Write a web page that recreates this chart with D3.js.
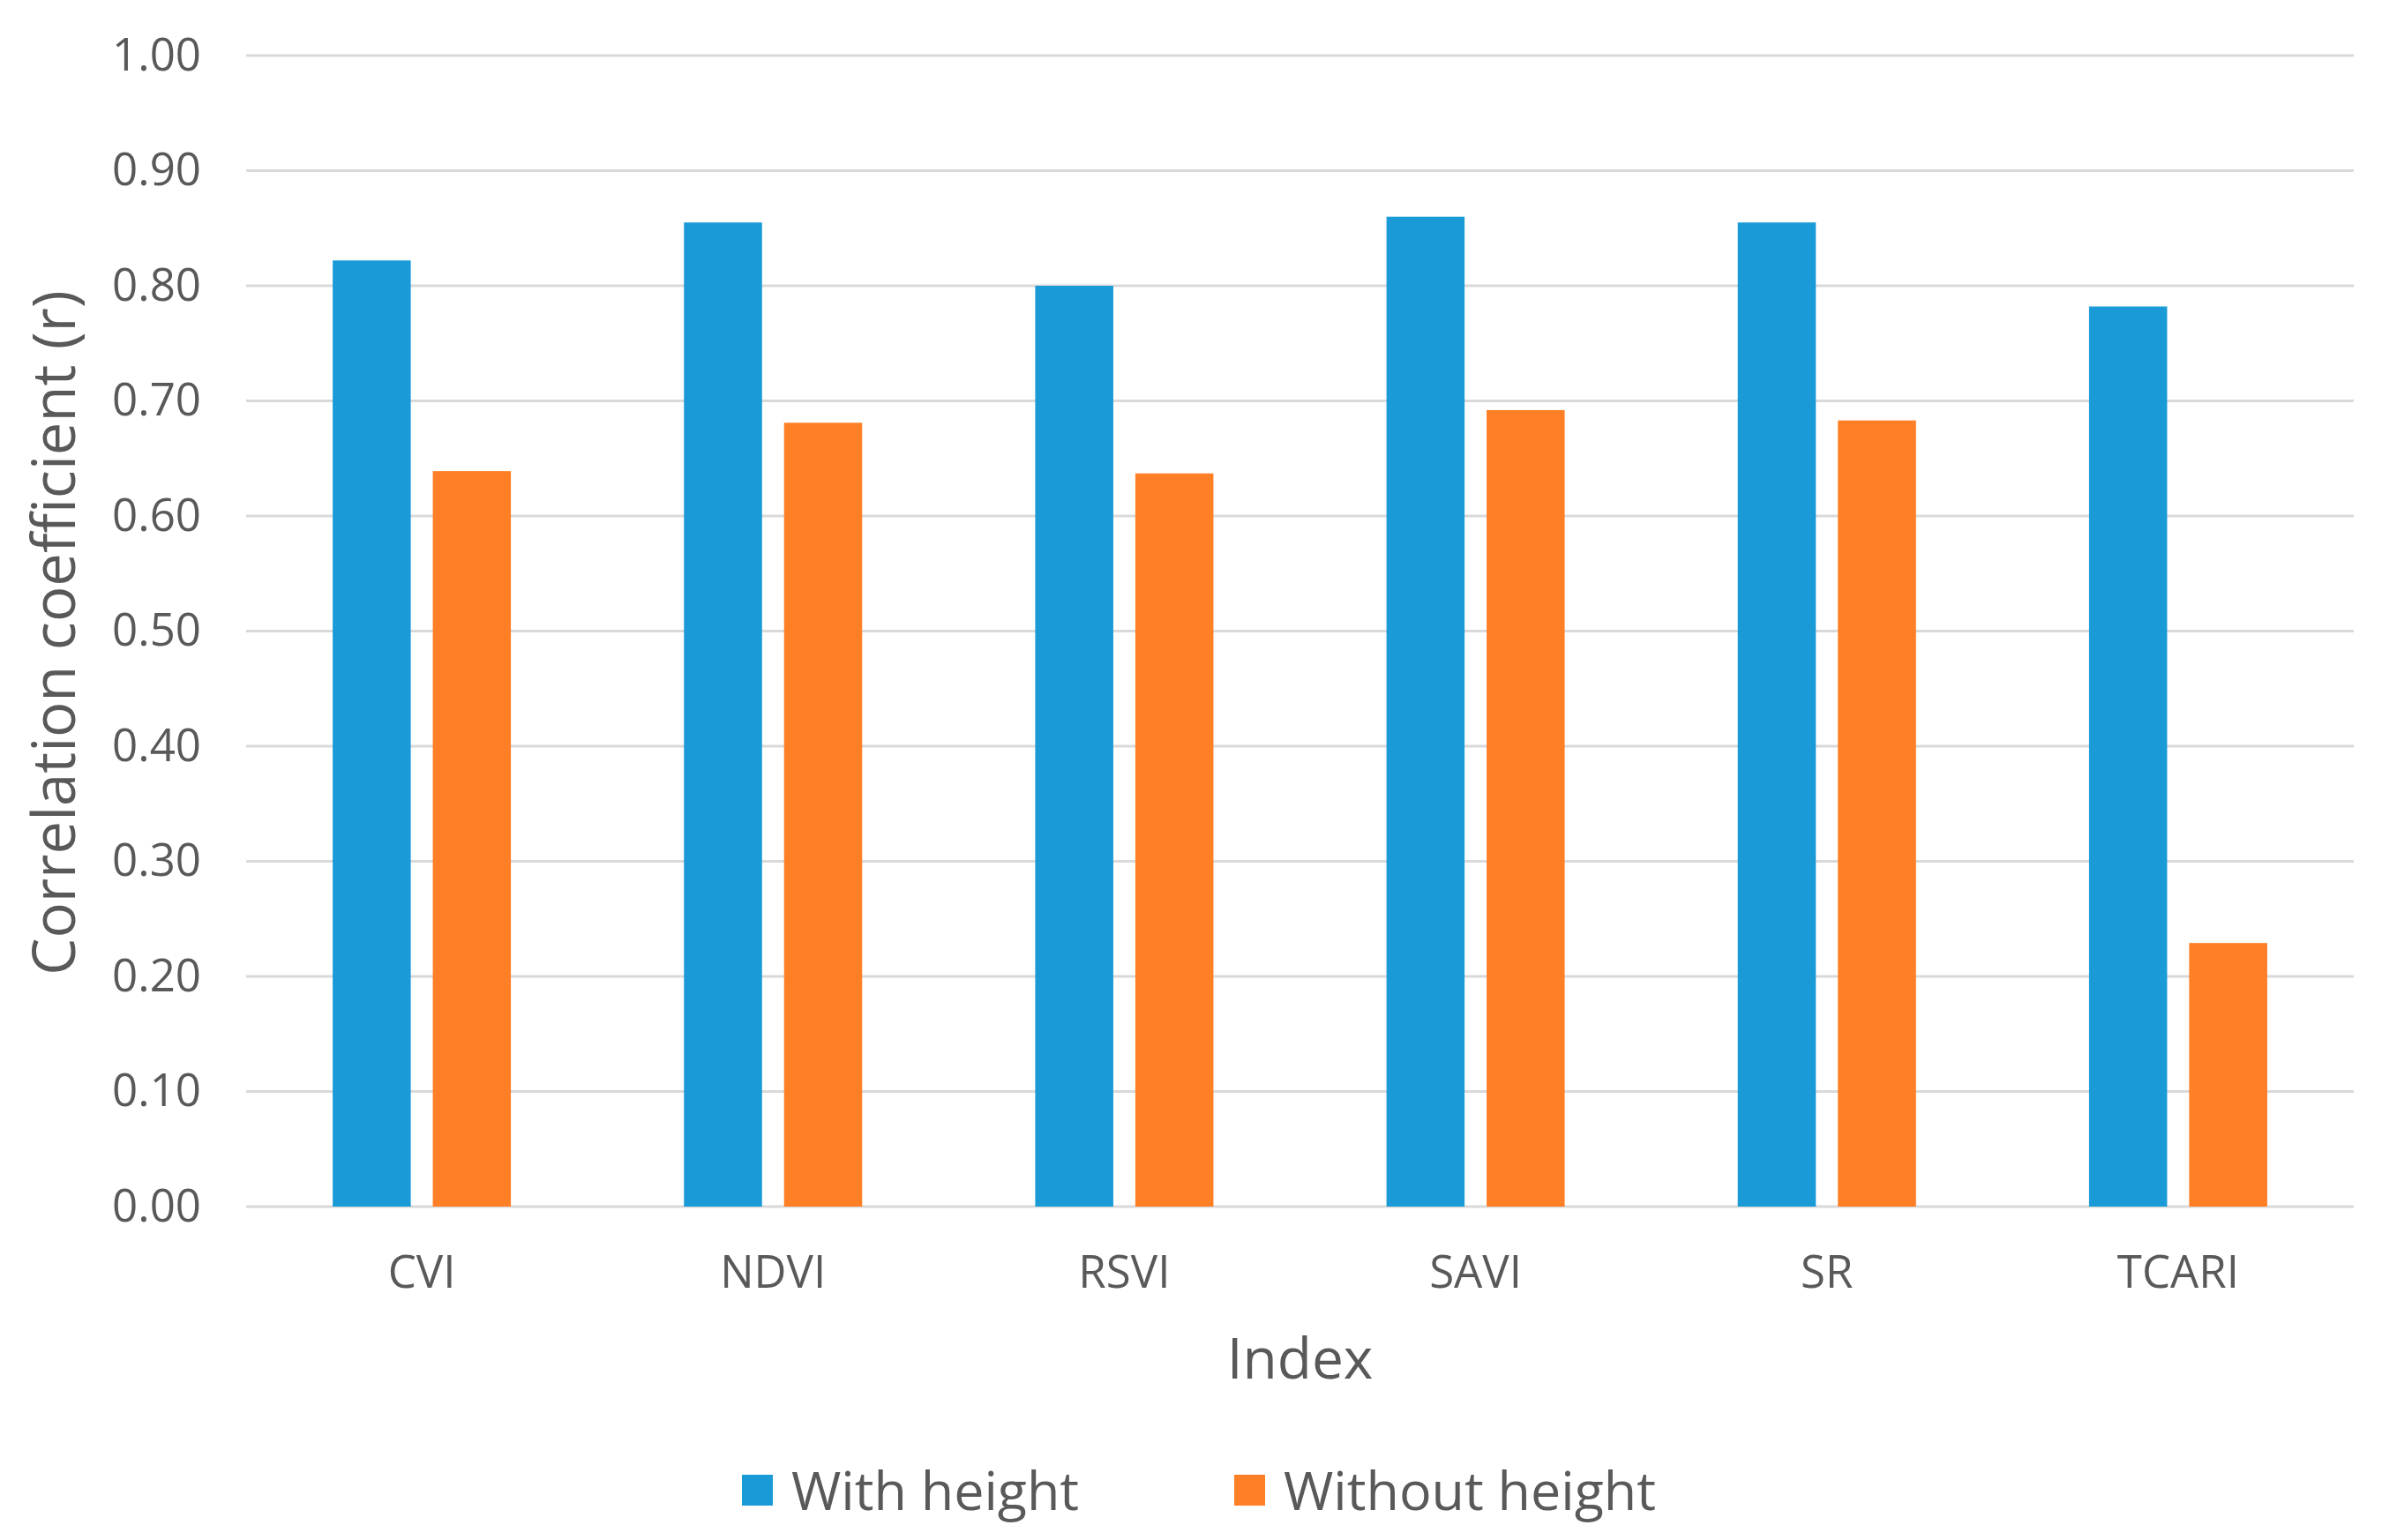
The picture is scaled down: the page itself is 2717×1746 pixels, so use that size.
<!DOCTYPE html>
<html>
<head>
<meta charset="utf-8">
<script src="https://cdn.jsdelivr.net/npm/d3@7"></script>
<style>
  html, body { margin: 0; padding: 0; background: #fff; }
  text { font-family: "Open Sans", sans-serif; fill: #595959; }
</style>
</head>
<body>
<svg id="chart" width="2717" height="1746"></svg>
<script>
// --- DATA ---
const categories = ["CVI", "NDVI", "RSVI", "SAVI", "SR", "TCARI"];
const seriesNames = ["With height", "Without height"];
const withHeight = [0.822, 0.855, 0.800, 0.860, 0.855, 0.782];
const withoutHeight = [0.639, 0.681, 0.637, 0.692, 0.683, 0.229];
const yTicks = [0, 0.1, 0.2, 0.3, 0.4, 0.5, 0.6, 0.7, 0.8, 0.9, 1.0];
const colors = ["#1a9bd7", "#ff7f27"];

// --- LAYOUT ---
const W = 2717, H = 1746;
const plot = { left: 279, right: 2668, top: 63, bottom: 1368 };

const svg = d3.select("#chart");
svg.append("rect").attr("width", W).attr("height", H).attr("fill", "#fff");

const x = d3.scaleBand().domain(categories).range([plot.left, plot.right]).padding(0);
const y = d3.scaleLinear().domain([0, 1]).range([plot.bottom, plot.top]);

// cluster of two bars, ~202px wide centered in each band
const clusterW = 202;
const xs = d3.scaleBand().domain(seriesNames).range([0, clusterW]).paddingInner(0.22);

// --- GRID ---
svg.append("g")
  .selectAll("line")
  .data(yTicks).join("line")
  .attr("x1", plot.left).attr("x2", plot.right)
  .attr("y1", d => y(d)).attr("y2", d => y(d))
  .attr("stroke", "#d9d9d9").attr("stroke-width", 3);

// --- Y AXIS ---
const yAxis = svg.append("g")
  .attr("transform", `translate(${plot.left},0)`)
  .call(d3.axisLeft(y).tickValues(yTicks).tickFormat(d3.format(".2f")).tickSize(0).tickPadding(51));
yAxis.select(".domain").remove();
yAxis.selectAll("text").style("font-size", "51px").attr("fill", "#595959").attr("font-family", "Open Sans");

// --- BARS ---
const rows = categories.map((c, i) => ({ cat: c, values: [withHeight[i], withoutHeight[i]] }));
const groups = svg.append("g").selectAll("g")
  .data(rows).join("g")
  .attr("transform", d => `translate(${x(d.cat) + x.bandwidth() / 2 - clusterW / 2},0)`);

groups.selectAll("rect")
  .data(d => d.values.map((v, j) => ({ s: seriesNames[j], v, j })))
  .join("rect")
  .attr("x", d => xs(d.s))
  .attr("width", xs.bandwidth())
  .attr("y", d => y(d.v))
  .attr("height", d => y(0) - y(d.v))
  .attr("fill", d => colors[d.j]);

// --- X AXIS ---
const xAxis = svg.append("g")
  .attr("transform", `translate(0,${plot.bottom})`)
  .call(d3.axisBottom(x).tickSize(0).tickPadding(56));
xAxis.select(".domain").remove();
xAxis.selectAll("text").style("font-size", "51px").attr("fill", "#595959").attr("font-family", "Open Sans");

// --- AXIS TITLES ---
svg.append("text")
  .attr("x", (plot.left + plot.right) / 2).attr("y", 1563)
  .attr("text-anchor", "middle")
  .style("font-size", "64px")
  .text("Index");

svg.append("text")
  .attr("transform", `translate(85,${(plot.top + plot.bottom) / 2 + 2}) rotate(-90)`)
  .attr("text-anchor", "middle")
  .style("font-size", "67px")
  .text("Correlation coefficient (r)");

// --- LEGEND ---
const legendX = [841, 1399];
const legend = svg.append("g").selectAll("g")
  .data(seriesNames).join("g")
  .attr("transform", (d, i) => `translate(${legendX[i]},1672)`);
legend.append("rect").attr("width", 35).attr("height", 35).attr("fill", (d, i) => colors[i]);
legend.append("text")
  .attr("x", 56).attr("y", 40)
  .style("font-size", "61px")
  .text(d => d);
</script>
</body>
</html>
